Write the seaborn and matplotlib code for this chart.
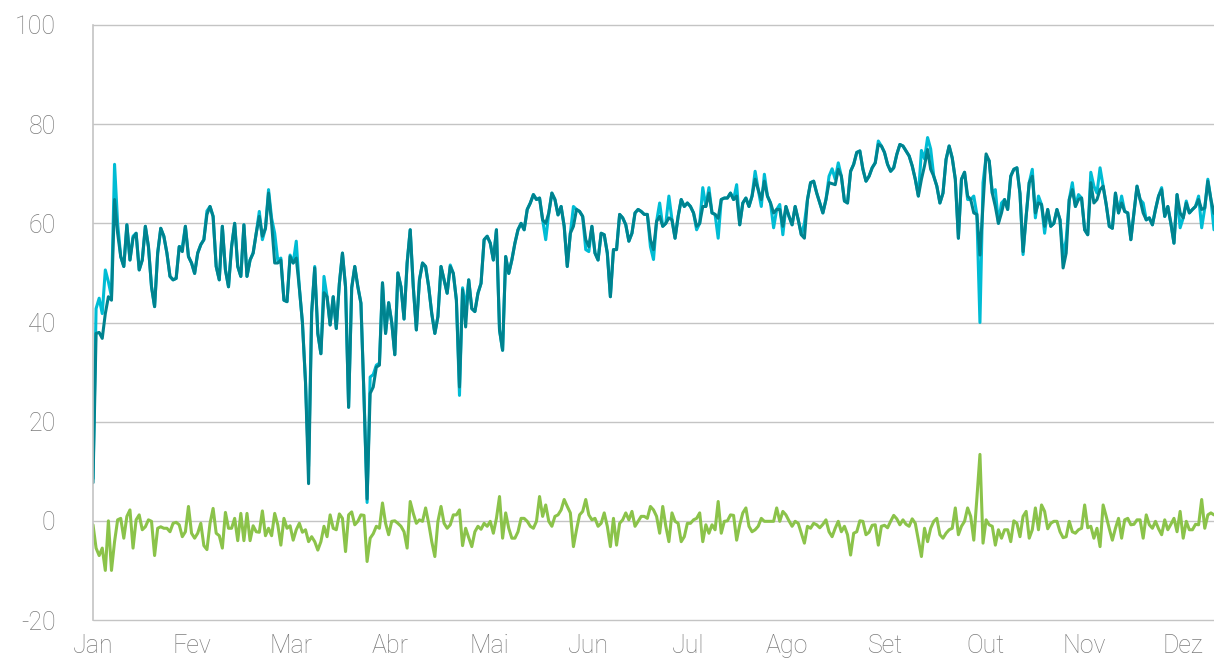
import numpy as np
import pandas as pd
import matplotlib.pyplot as plt
import seaborn as sns

meses = ['Jan', 'Fev', 'Mar', 'Abr', 'Mai', 'Jun', 'Jul', 'Ago', 'Set', 'Out', 'Nov', 'Dez']

# serie escura (teal)
serie_a = [
    7.7, 37.8, 38.0, 36.8, 41.8, 45.2, 44.5, 64.8, 58.0, 53.3,
    51.3, 59.7, 52.6, 57.0, 58.0, 50.6, 52.6, 59.4, 55.3, 47.2,
    43.2, 54.0, 59.0, 57.4, 54.0, 49.3, 48.6, 48.9, 55.3, 54.3,
    59.4, 53.3, 52.0, 49.9, 54.0, 55.7, 56.7, 61.8, 63.4, 61.4,
    51.3, 48.6, 59.4, 50.6, 47.2, 55.3, 60.0, 51.3, 49.3, 59.7,
    49.3, 52.6, 54.0, 58.0, 61.4, 57.4, 59.0, 66.1, 60.0, 52.0,
    52.0, 52.6, 44.5, 44.2, 53.3, 52.0, 53.0, 47.0, 40.0, 28.0,
    7.5, 42.0, 51.0, 37.8, 33.7, 46.0, 45.2, 39.5, 45.2, 38.8,
    47.9, 54.0, 47.2, 22.9, 47.0, 51.3, 47.2, 43.9, 25.0, 4.4,
    25.7, 27.0, 31.0, 31.4, 48.0, 37.8, 44.0, 40.0, 33.5, 50.0,
    47.2, 40.7, 52.0, 58.7, 47.2, 38.5, 48.6, 52.0, 51.3, 47.2,
    41.8, 37.8, 41.2, 51.3, 48.6, 45.9, 51.3, 49.9, 44.5, 27.0,
    46.6, 39.1, 48.6, 42.8, 42.2, 45.9, 47.9, 56.7, 57.4, 56.0,
    52.6, 58.7, 38.5, 34.4, 53.3, 49.9, 52.6, 56.0, 58.7, 60.0,
    58.7, 62.8, 64.1, 65.8, 64.8, 65.1, 60.7, 60.0, 62.1, 66.1,
    64.8, 61.7, 63.4, 59.4, 51.3, 58.0, 59.4, 62.8, 62.4, 61.4,
    56.7, 55.3, 59.4, 54.0, 52.6, 58.0, 57.7, 54.0, 45.2, 54.7,
    54.7, 61.8, 61.1, 59.7, 56.4, 58.0, 62.1, 62.8, 62.4, 61.8,
    61.8, 56.7, 54.7, 60.4, 61.4, 59.4, 60.0, 61.1, 60.7, 57.0,
    61.4, 64.8, 63.4, 64.1, 63.4, 62.1, 59.4, 60.0, 63.4, 63.4,
    66.1, 62.1, 61.8, 61.0, 64.8, 65.1, 65.1, 66.1, 64.8, 65.5,
    59.7, 64.1, 65.1, 63.4, 65.5, 68.9, 66.8, 64.8, 68.5, 65.5,
    64.1, 62.1, 62.8, 62.8, 59.4, 63.4, 61.4, 59.7, 63.4, 60.7,
    57.7, 57.0, 64.8, 68.2, 68.5, 66.1, 64.1, 62.1, 64.8, 68.2,
    68.0, 67.8, 70.9, 69.5, 64.5, 64.1, 70.5, 71.9, 74.3, 74.6,
    70.9, 68.5, 69.5, 71.2, 72.2, 75.9, 75.6, 74.3, 71.9, 70.5,
    71.2, 73.9, 75.9, 75.6, 74.6, 73.6, 71.6, 68.9, 65.5, 68.9,
    71.6, 74.9, 70.9, 69.5, 67.5, 64.1, 66.1, 72.9, 75.6, 73.2,
    68.9, 57.0, 68.9, 70.3, 65.5, 64.8, 62.1, 61.8, 53.6, 63.7,
    74.0, 72.6, 66.1, 63.4, 60.0, 62.1, 64.8, 62.8, 69.5, 70.9,
    71.2, 66.0, 54.3, 61.4, 68.2, 69.5, 62.1, 64.1, 63.8, 59.4,
    62.8, 59.4, 60.0, 62.8, 60.7, 51.0, 54.0, 64.8, 66.8, 63.4,
    64.8, 65.1, 58.7, 57.7, 68.2, 64.1, 64.8, 66.8, 67.5, 63.8,
    59.4, 59.0, 66.1, 62.1, 64.1, 62.4, 62.1, 56.7, 62.1, 67.5,
    64.8, 62.1, 60.7, 61.1, 59.7, 62.8, 65.5, 66.8, 61.4, 63.4,
    60.0, 56.0, 65.8, 62.1, 61.1, 64.1, 62.1, 62.8, 63.4, 64.8,
    62.8, 63.1, 68.5, 64.8, 62.0,
]

# serie clara (ciano)
serie_b = [
    8.5, 42.8, 44.9, 41.8, 50.6, 48.2, 45.2, 71.9, 60.0, 53.3,
    51.3, 59.7, 52.6, 57.4, 58.0, 50.6, 52.6, 59.4, 55.3, 47.2,
    43.2, 54.0, 59.0, 57.4, 54.0, 49.3, 48.6, 48.9, 55.3, 55.3,
    59.4, 53.3, 52.0, 49.9, 54.0, 55.7, 56.7, 62.5, 63.4, 61.4,
    51.3, 48.6, 59.4, 50.6, 47.2, 55.3, 60.0, 51.3, 49.3, 59.7,
    49.3, 52.6, 54.0, 58.0, 62.4, 56.7, 59.0, 66.8, 61.0, 58.0,
    52.5, 53.0, 44.5, 44.2, 53.6, 52.0, 56.4, 47.0, 40.0, 28.0,
    11.0, 42.0, 51.3, 37.8, 33.7, 49.3, 45.2, 39.5, 45.2, 38.8,
    47.9, 54.0, 47.2, 22.9, 47.0, 51.3, 47.2, 43.9, 25.0, 3.7,
    29.0, 29.5, 31.4, 31.8, 48.0, 37.8, 44.0, 40.0, 33.5, 50.0,
    47.2, 40.7, 52.0, 58.7, 47.2, 38.5, 48.6, 52.0, 51.3, 47.2,
    41.8, 37.8, 41.2, 51.3, 48.6, 45.9, 51.6, 49.9, 44.5, 25.3,
    47.0, 43.0, 48.6, 42.8, 42.2, 45.9, 47.9, 56.7, 57.4, 56.0,
    52.6, 58.7, 38.5, 34.4, 53.3, 49.9, 52.6, 56.0, 58.7, 60.0,
    58.7, 62.8, 64.1, 65.8, 64.8, 65.1, 60.7, 56.7, 62.1, 66.1,
    64.8, 61.7, 63.4, 59.4, 51.3, 58.0, 63.4, 62.8, 62.4, 61.4,
    54.7, 54.3, 59.4, 54.0, 52.6, 58.0, 57.7, 54.0, 45.2, 54.7,
    54.7, 61.8, 61.1, 59.7, 56.4, 58.0, 62.1, 62.8, 62.4, 61.8,
    61.8, 55.3, 52.7, 60.4, 64.1, 59.4, 60.0, 65.5, 60.7, 57.0,
    61.4, 64.8, 63.4, 64.1, 63.4, 62.1, 58.7, 60.0, 67.2, 63.4,
    67.2, 62.1, 61.8, 57.0, 64.8, 65.1, 65.1, 66.1, 64.8, 67.8,
    59.7, 64.1, 65.1, 63.4, 65.5, 70.5, 66.8, 63.4, 69.9, 65.5,
    64.1, 59.1, 62.8, 63.8, 57.7, 63.4, 61.4, 59.7, 63.4, 60.7,
    57.7, 60.0, 64.8, 68.2, 68.5, 66.1, 64.1, 62.1, 64.8, 69.5,
    71.0, 68.9, 72.2, 69.5, 64.5, 64.1, 70.5, 71.9, 74.3, 74.6,
    70.9, 68.5, 69.5, 71.2, 72.2, 76.6, 75.6, 74.3, 71.9, 70.5,
    71.2, 73.9, 75.9, 75.6, 74.6, 73.6, 71.6, 68.9, 65.5, 74.7,
    73.0, 77.3, 75.0, 69.5, 67.5, 64.1, 66.1, 72.9, 75.6, 73.2,
    68.9, 57.0, 68.9, 70.3, 64.8, 64.8, 65.5, 61.8, 40.0, 68.2,
    73.5, 72.6, 66.1, 66.8, 60.0, 64.1, 64.8, 62.8, 69.5, 70.9,
    71.2, 66.0, 53.7, 61.4, 68.2, 70.9, 61.1, 65.5, 63.8, 58.0,
    62.8, 59.4, 60.0, 62.8, 60.7, 53.5, 56.7, 64.8, 68.2, 63.4,
    65.8, 65.1, 58.7, 57.7, 70.3, 67.5, 66.1, 71.2, 67.5, 63.8,
    59.4, 59.0, 66.1, 62.1, 65.5, 62.4, 62.1, 56.7, 62.1, 67.5,
    64.8, 64.1, 60.7, 61.1, 59.7, 62.8, 65.5, 67.2, 61.4, 63.4,
    60.0, 56.0, 65.8, 59.1, 61.1, 64.5, 62.1, 62.8, 63.4, 65.5,
    59.1, 63.1, 68.9, 64.8, 58.7,
]

# diferenca (verde)
diferenca = [
    -0.8, -5.5, -7.0, -5.5, -10.0, 0.0, -10.0, -4.2, 0.2, 0.5,
    -3.5, 0.9, 2.2, -5.5, 0.2, 1.2, -1.8, -1.2, 0.2, -0.1,
    -7.0, -1.5, -1.2, -1.5, -1.5, -2.2, -0.5, -0.3, -0.8, -3.2,
    -2.2, 2.9, -2.5, -3.5, -2.5, -0.5, -5.0, -5.8, -0.5, 2.5,
    -2.5, -3.0, -5.5, 1.7, -1.5, -1.5, 0.5, -4.0, 1.5, -4.0,
    1.5, -4.0, -1.0, -2.2, -2.3, 2.0, -3.0, -1.5, -3.0, 1.5,
    -0.8, -4.9, 0.5, -1.5, -1.0, -3.9, -1.8, -0.5, -2.3, -1.8,
    -4.2, -3.2, -4.2, -5.9, -4.2, -1.1, -3.2, 1.2, -1.5, -1.8,
    1.4, 0.5, -6.2, 1.2, 1.8, -0.8, -0.1, 1.2, 1.1, -8.2,
    -3.5, -2.6, -1.1, -1.5, 3.6, -0.5, -2.8, -0.1, 0.0, -0.5,
    -1.1, -2.2, -5.5, 3.9, 1.5, -0.5, 0.2, -0.1, 2.6, -0.5,
    -4.2, -7.2, -0.1, 2.9, -0.5, -1.5, -0.8, 1.2, 1.2, 2.2,
    -5.0, -1.5, -3.4, -5.2, -2.2, -1.1, -1.7, -0.5, -1.1, -0.1,
    -2.5, 0.5, 4.9, -3.5, 1.6, -1.5, -3.5, -3.5, -2.2, 0.5,
    0.5, -0.1, -1.1, -1.5, -0.1, 4.9, 0.9, 3.2, -0.1, -1.1,
    0.9, 1.2, 2.2, 4.3, 2.9, 1.6, -5.2, -1.8, 1.2, 1.9,
    4.3, 1.2, 0.2, 0.5, -1.1, -0.5, 1.6, -1.1, -5.2, 0.5,
    -4.9, -0.5, 0.2, 1.6, 0.2, 1.9, -1.1, -0.1, 0.9, 0.9,
    0.5, 2.9, 2.2, 0.9, -2.5, 2.9, -1.1, -4.2, 1.6, -0.1,
    -0.5, -4.2, -3.2, -0.5, -0.5, 0.2, 0.5, 1.6, -4.2, -0.8,
    -2.5, -0.8, -1.8, 3.9, -2.5, -0.1, 0.0, 1.2, 1.1, -3.9,
    -0.8, 1.6, 2.6, -1.1, -2.2, -1.8, -1.1, 0.5, -0.1, -0.1,
    -0.1, -0.1, 2.6, -0.1, 1.9, 1.2, 0.0, -1.1, -0.1, -0.5,
    -2.5, -4.5, -1.1, -1.5, -0.5, -0.8, -1.4, -0.7, 0.2, -2.2,
    -3.2, -1.5, -0.1, -2.2, -1.1, -2.8, -6.9, -2.5, -2.2, 0.0,
    -0.1, -2.8, -2.3, -0.9, -0.8, -4.9, -1.1, -0.9, -1.4, -0.1,
    1.1, 0.4, -0.8, 0.2, -0.7, -1.1, 0.4, -0.5, -3.9, -7.2,
    -1.5, -4.2, -1.5, -0.1, 0.5, -2.8, -3.5, -2.5, -1.8, -1.5,
    2.6, -2.8, -1.1, -0.1, 2.6, 0.9, -3.9, 4.5, 13.4, -4.5,
    0.2, -0.8, -1.1, -4.9, -1.8, -3.5, -1.8, -1.8, -4.2, 0.0,
    -0.5, -3.2, 0.9, 1.9, -3.5, -1.8, 2.6, -1.8, 3.2, 1.9,
    -1.6, -0.5, -0.1, -0.1, -2.2, -3.4, -3.2, -0.1, -2.2, -2.5,
    -1.8, -1.5, 3.2, -1.4, -1.1, -3.5, -1.5, -5.2, 3.2, 0.9,
    -1.6, -3.9, -1.5, 0.5, -3.5, 0.2, 0.5, -0.8, -0.7, 0.2,
    0.2, -3.5, 1.2, -0.8, -1.5, -0.1, -1.6, -2.8, 0.2, -1.8,
    -0.7, 0.5, -2.2, 1.9, -3.5, -0.1, -1.8, -1.8, -0.7, -0.8,
    4.3, -1.5, 1.2, 1.6, 1.2,
]

dias = np.arange(len(serie_a))
df = pd.DataFrame({'dia': dias, 'a': serie_a, 'b': serie_b, 'dif': diferenca})

sns.set_style('white')
plt.rcParams['font.family'] = ['Roboto', 'DejaVu Sans']
plt.rcParams['axes.unicode_minus'] = False

fig = plt.figure(figsize=(12.14, 6.59), dpi=100)
ax = fig.add_axes([93 / 1214, 39 / 659, 1121 / 1214, 595 / 659])

sns.lineplot(data=df, x='dia', y='b', color='#00BCD4', lw=2.2, ax=ax)
sns.lineplot(data=df, x='dia', y='a', color='#00838F', lw=2.2, ax=ax)
sns.lineplot(data=df, x='dia', y='dif', color='#8BC34A', lw=2.2, ax=ax)

ax.set_xlim(0, len(dias) - 1)
ax.set_ylim(-20, 100)
ax.set_yticks(range(-20, 101, 20))
ax.set_xticks(np.linspace(0, 354, len(meses)))
ax.set_xticklabels(meses)
ax.set_xlabel('')
ax.set_ylabel('')

ax.yaxis.grid(True, color='#c4c4c4', lw=1)
for gl in ax.get_ygridlines():
    gl.set_clip_on(False)
ax.set_axisbelow(True)

for s in ['top', 'right', 'bottom']:
    ax.spines[s].set_visible(False)
ax.spines['left'].set_color('#c4c4c4')
ax.spines['left'].set_linewidth(1.2)

ax.tick_params(axis='y', length=0, pad=27, labelsize=18, labelcolor='#7c7c7c')
ax.tick_params(axis='x', length=0, pad=10, labelsize=18, labelcolor='#7c7c7c')
for t in ax.get_xticklabels() + ax.get_yticklabels():
    t.set_fontweight('light')

fig.savefig('out.png', dpi=100)
